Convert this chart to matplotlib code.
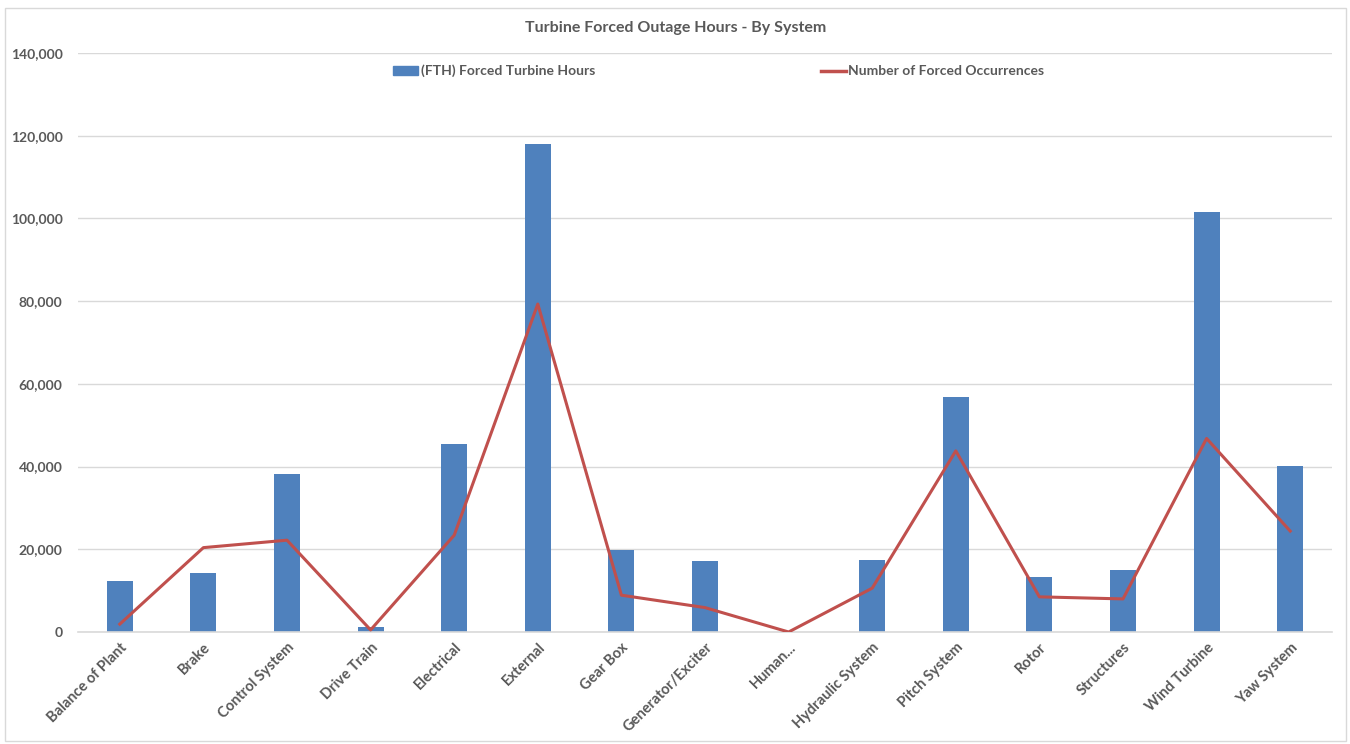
import matplotlib
matplotlib.use("Agg")
import matplotlib.pyplot as plt
from matplotlib.patches import Rectangle
from matplotlib.lines import Line2D
from matplotlib.ticker import FuncFormatter
import numpy as np

categories = ["Balance of Plant", "Brake", "Control System", "Drive Train", "Electrical",
              "External", "Gear Box", "Generator/Exciter", "Human...", "Hydraulic System",
              "Pitch System", "Rotor", "Structures", "Wind Turbine", "Yaw System"]
forced_hours = [12300, 14200, 38200, 1200, 45500, 118000, 19800, 17200, 0, 17300,
                56900, 13300, 15000, 101500, 40100]
occurrences = [1900, 20400, 22200, 500, 23400, 79300, 8900, 5900, 0, 10600,
               43800, 8500, 8000, 46800, 24400]
yticks = [0, 20000, 40000, 60000, 80000, 100000, 120000, 140000]

TEXT = "#595959"
BAR = "#4f81bd"
LINE = "#c0504d"
GRID = "#d9d9d9"

plt.rcParams["font.family"] = ["Lato", "DejaVu Sans"]

fig = plt.figure(figsize=(13.5, 7.44), dpi=100)
ax = fig.add_axes([78 / 1350, 1 - 632 / 744, 1254 / 1350, 579 / 744])

x = np.arange(len(categories))
ax.bar(x, forced_hours, width=0.31, color=BAR, zorder=2,
       label="(FTH) Forced Turbine Hours")
ax.plot(x, occurrences, color=LINE, linewidth=2.2, zorder=3,
        label="Number of Forced Occurrences")

ax.set_xlim(-0.5, len(categories) - 0.5)
ax.set_ylim(0, 140000)
ax.set_yticks(yticks)
ax.yaxis.set_major_formatter(FuncFormatter(lambda v, p: f"{int(v):,}"))
ax.grid(axis="y", color=GRID, linewidth=1.0, zorder=0)
ax.set_axisbelow(True)
for s in ("top", "right", "left"):
    ax.spines[s].set_visible(False)
ax.spines["bottom"].set_color(GRID)
ax.spines["bottom"].set_linewidth(1.2)
ax.tick_params(axis="both", length=0, colors=TEXT, labelsize=10)
ax.tick_params(axis="y", pad=11)
ax.tick_params(axis="x", pad=6, labelsize=10.5)
ax.set_xticks(x)
ax.set_xticklabels(categories, rotation=45, ha="right", rotation_mode="anchor")
for lbl in ax.get_xticklabels() + ax.get_yticklabels():
    lbl.set_fontweight("bold")

fig.text(676 / 1350, 1 - 28 / 744, "Turbine Forced Outage Hours - By System",
         ha="center", va="center", fontsize=11.5, fontweight="bold", color=TEXT)

handles = [Rectangle((0, 0), 1, 1, color=BAR),
           Line2D([0], [0], color=LINE, linewidth=2.5)]
leg = ax.legend(handles, ["(FTH) Forced Turbine Hours", "Number of Forced Occurrences"],
                loc="center", bbox_to_anchor=(719 / 1350, 1 - 71 / 744),
                bbox_transform=fig.transFigure, ncol=2, frameon=False,
                columnspacing=16.2, handlelength=1.8, handleheight=0.6,
                handletextpad=0.2, prop={"weight": "bold", "size": 10})
for t in leg.get_texts():
    t.set_color(TEXT)

fig.patches.append(Rectangle((5 / 1350, 1 - 741 / 744), 1341 / 1350, 733 / 744,
                             transform=fig.transFigure, fill=False,
                             edgecolor=GRID, linewidth=1.0))

fig.savefig("out.png", dpi=100, facecolor="white")
